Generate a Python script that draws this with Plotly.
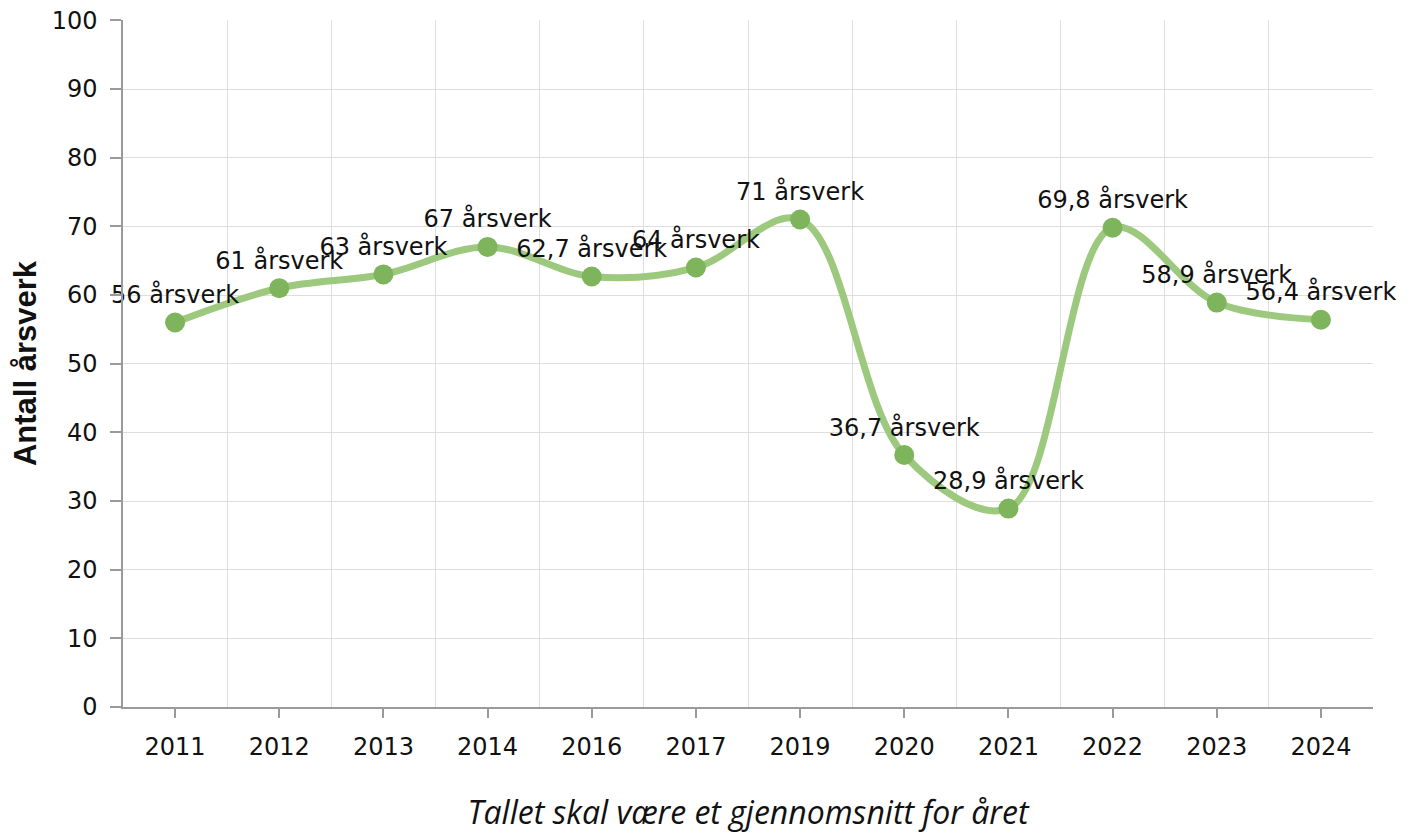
import plotly.graph_objects as go

# Data
years = ["2011", "2012", "2013", "2014", "2016", "2017", "2019", "2020", "2021", "2022", "2023", "2024"]
aarsverk = [56, 61, 63, 67, 62.7, 64, 71, 36.7, 28.9, 69.8, 58.9, 56.4]
labels = [f"{v:g} årsverk".replace(".", ",") for v in aarsverk]

LINE_COL = "#9dc97f"
MARKER_COL = "#7db45c"
AXIS_COL = "#9a9a9a"
GRID_COL = "#dedede"
TICK_FONT = dict(family="DejaVu Sans", size=24, color="#111")

idx = list(range(len(years)))

fig = go.Figure()
fig.add_trace(go.Scatter(
    x=idx, y=aarsverk,
    mode="lines+markers+text",
    line=dict(color=LINE_COL, width=7, shape="spline", smoothing=1),
    marker=dict(color=MARKER_COL, size=20),
    text=labels, textposition="top center",
    textfont=dict(family="DejaVu Sans", size=24, color="#111"),
    cliponaxis=False,
    showlegend=False,
))

# page body has an 8px margin, so the margins are shifted to compensate
fig.update_layout(
    width=1414, height=834,
    margin=dict(l=115, r=49, t=12, b=135),
    paper_bgcolor="white", plot_bgcolor="white",
    xaxis=dict(
        automargin=False,
        range=[-0.5, len(years) - 0.5],
        tickmode="array", tickvals=idx, ticktext=years,
        ticks="outside", ticklen=9, tickcolor=AXIS_COL, tickwidth=1.5,
        ticklabelstandoff=8,
        showgrid=False, zeroline=False,
        showline=True, linecolor=AXIS_COL, linewidth=1.5,
        minor=dict(tick0=0.5, dtick=1, showgrid=True, gridcolor=GRID_COL, gridwidth=1, ticks=""),
        tickfont=TICK_FONT,
        title=dict(text="Tallet skal være et gjennomsnitt for året",
                   font=dict(family="Open Sans", size=32, color="#111", style="italic"),
                   standoff=42),
    ),
    yaxis=dict(
        automargin=False,
        range=[0, 100.05], tickvals=list(range(0, 101, 10)),
        ticks="outside", ticklen=11, tickcolor=AXIS_COL, tickwidth=1.5,
        ticklabelstandoff=8, ticklabeloverflow="allow",
        showgrid=True, gridcolor=GRID_COL, gridwidth=1, zeroline=False,
        showline=True, linecolor=AXIS_COL, linewidth=1.5,
        tickfont=TICK_FONT,
        title=dict(text="<b>Antall årsverk</b>",
                   font=dict(family="Liberation Sans", size=31, color="#111"),
                   standoff=14),
    ),
)

fig.write_html("out.html")
